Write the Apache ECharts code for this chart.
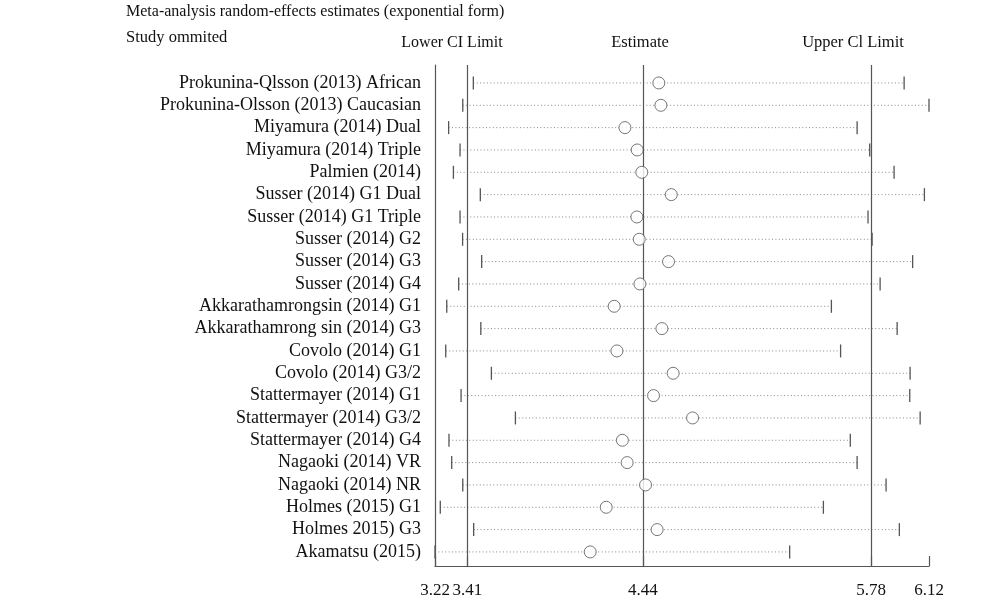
<!DOCTYPE html>
<html>
<head>
<meta charset="utf-8">
<script src="https://cdn.jsdelivr.net/npm/echarts@6/dist/echarts.min.js"></script>
<style>
html,body{margin:0;padding:0;background:#fff;}
#chart{width:1000px;height:602px;}
</style>
</head>
<body>
<div id="chart"></div>
<script>
const studies = [
  "Prokunina-Qlsson (2013) African",
  "Prokunina-Olsson (2013) Caucasian",
  "Miyamura (2014) Dual",
  "Miyamura (2014) Triple",
  "Palmien (2014)",
  "Susser (2014) G1 Dual",
  "Susser (2014) G1 Triple",
  "Susser (2014) G2",
  "Susser (2014) G3",
  "Susser (2014) G4",
  "Akkarathamrongsin (2014) G1",
  "Akkarathamrong sin (2014) G3",
  "Covolo (2014) G1",
  "Covolo (2014) G3/2",
  "Stattermayer (2014) G1",
  "Stattermayer (2014) G3/2",
  "Stattermayer (2014) G4",
  "Nagaoki (2014) VR",
  "Nagaoki (2014) NR",
  "Holmes (2015) G1",
  "Holmes 2015) G3",
  "Akamatsu (2015)"
];
const lowerCI = [3.445,3.383,3.300,3.367,3.328,3.486,3.367,3.382,3.494,3.359,3.289,3.489,3.283,3.551,3.373,3.692,3.302,3.318,3.383,3.251,3.447,3.220];
const estimate = [4.534,4.546,4.335,4.407,4.434,4.607,4.405,4.419,4.591,4.423,4.272,4.552,4.288,4.618,4.503,4.732,4.320,4.348,4.456,4.225,4.524,4.131];
const upperCI = [5.974,6.120,5.698,5.772,5.915,6.093,5.762,5.786,6.024,5.833,5.547,5.933,5.601,6.009,6.007,6.068,5.658,5.698,5.868,5.500,5.946,5.302];
const axisTicks = [3.22,3.41,4.44,5.78,6.12];
const refLines = [3.41,4.44,5.78];
const axisMin = 3.22, axisMax = 6.12;

const FONT = "Liberation Serif";
const chart = echarts.init(document.getElementById('chart'), null, {renderer:'canvas'});

const ciData = studies.map((s,i)=>[lowerCI[i], upperCI[i], i]);
const estData = studies.map((s,i)=>[estimate[i], i]);

const option = {
  animation:false,
  backgroundColor:'#fff',
  textStyle:{fontFamily:FONT},
  grid:[
    {left:435, right:71, top:65, bottom:36},
    {left:435, right:71, top:71.8, bottom:38.9}
  ],
  xAxis:[
    {gridIndex:0, type:'value', min:axisMin, max:axisMax,
     axisLine:{show:true, lineStyle:{color:'#555', width:1.2}},
     axisTick:{show:true, inside:true, length:10, customValues:axisTicks, lineStyle:{color:'#555', width:1.2}},
     axisLabel:{show:true, customValues:axisTicks, margin:16, color:'#111', fontSize:17, fontFamily:FONT,
       hideOverlap:false, formatter:v=>v.toFixed(2)},
     splitLine:{show:false}},
    {gridIndex:1, type:'value', min:axisMin, max:axisMax, show:false}
  ],
  yAxis:[
    {gridIndex:0, type:'value', min:0, max:1,
     axisLine:{show:true, lineStyle:{color:'#555', width:1.2}},
     axisTick:{show:false}, axisLabel:{show:false}, splitLine:{show:false}},
    {gridIndex:1, type:'category', data:studies, inverse:true,
     axisLine:{show:false}, axisTick:{show:false},
     axisLabel:{show:true, interval:0, hideOverlap:false, margin:14, color:'#111', fontSize:18, lineHeight:18, fontFamily:FONT},
     splitLine:{show:false}}
  ],
  series:[
    {type:'line', xAxisIndex:0, yAxisIndex:0, data:[], silent:true,
     markLine:{silent:true, symbol:'none', label:{show:false},
       lineStyle:{type:'solid', color:'#555', width:1.2},
       data:refLines.map(v=>({xAxis:v}))}},
    {type:'custom', xAxisIndex:1, yAxisIndex:1, data:ciData, encode:{x:[0,1], y:2},
     renderItem:function(params, api){
       const a = api.coord([api.value(0), api.value(2)]);
       const b = api.coord([api.value(1), api.value(2)]);
       const h = 6.5;
       return {type:'group', children:[
         {type:'line', shape:{x1:a[0], y1:a[1], x2:b[0], y2:b[1]},
          style:{stroke:'#888', lineWidth:1, lineDash:[1,2.4]}},
         {type:'line', shape:{x1:a[0], y1:a[1]-h, x2:a[0], y2:a[1]+h},
          style:{stroke:'#555', lineWidth:1.3}},
         {type:'line', shape:{x1:b[0], y1:b[1]-h, x2:b[0], y2:b[1]+h},
          style:{stroke:'#555', lineWidth:1.3}}
       ]};
     }},
    {type:'scatter', xAxisIndex:1, yAxisIndex:1, data:estData, symbol:'circle', symbolSize:12, z:5,
     itemStyle:{color:'#fff', borderColor:'#555', borderWidth:1}}
  ],
  graphic:[
    {type:'text', left:126, top:4, style:{text:'Meta-analysis random-effects estimates (exponential form)', font:'16px "'+FONT+'"', fill:'#111'}},
    {type:'text', left:126, top:29, style:{text:'Study ommited', font:'16.5px "'+FONT+'"', fill:'#111'}},
    {type:'text', x:452, y:43, style:{text:'Lower CI Limit', font:'16px "'+FONT+'"', fill:'#111', align:'center', verticalAlign:'middle'}},
    {type:'text', x:640, y:43, style:{text:'Estimate', font:'16.5px "'+FONT+'"', fill:'#111', align:'center', verticalAlign:'middle'}},
    {type:'text', x:853, y:43, style:{text:'Upper Cl Limit', font:'16.5px "'+FONT+'"', fill:'#111', align:'center', verticalAlign:'middle'}}
  ]
};
chart.setOption(option);
</script>
</body>
</html>
